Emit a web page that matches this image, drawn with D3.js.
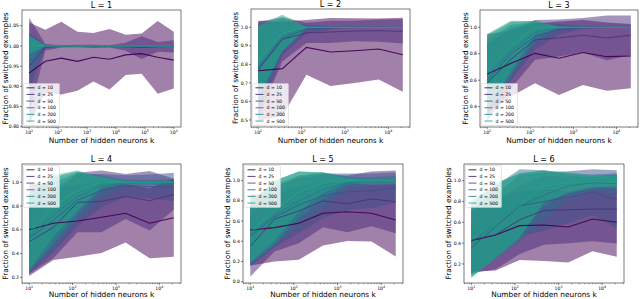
<!DOCTYPE html>
<html><head><meta charset="utf-8">
<script src="https://cdn.jsdelivr.net/npm/d3@7"></script>
<style>body{margin:0;background:#fff} svg{display:block} text{font-family:"DejaVu Sans",sans-serif;fill:#000}</style>
</head><body>
<svg id="c" width="640" height="299"></svg>
<script>
// ---------------- data ----------------
const dims = [10, 25, 50, 100, 200, 500];
const kLong = [10, 36, 129, 464, 1668, 5995, 21544, 77426, 278256, 1000000];
const kShort = [10, 36, 129, 464, 1668, 5995, 21544];

const mean1 = [
 [0.933,0.962,0.970,0.962,0.972,0.967,0.978,0.981,0.972,0.965],
 [0.950,0.997,0.999,1.000,0.999,0.999,0.998,0.996,0.998,0.999],
 [0.962,0.999,1.000,1.000,1.000,1.000,1.000,1.000,1.000,1.000],
 [0.975,1.000,1.000,1.000,1.000,1.000,1.000,1.000,1.000,1.000],
 [0.990,1.000,1.000,1.000,1.000,1.000,1.000,1.000,1.000,1.000],
 [1.003,1.000,1.000,1.000,1.000,1.000,1.000,1.000,1.000,1.000]];
const sd1 = [
 [0.125,0.078,0.090,0.073,0.060,0.075,0.050,0.050,0.090,0.070],
 [0.120,0.008,0.003,0.003,0.004,0.003,0.010,0.028,0.012,0.015],
 [0.070,0.004,0.002,0.001,0.001,0.001,0.001,0.001,0.001,0.001],
 [0.050,0.003,0.001,0.001,0.001,0.001,0.001,0.001,0.001,0.001],
 [0.035,0.002,0.001,0.001,0.001,0.001,0.001,0.001,0.001,0.001],
 [0.022,0.002,0.001,0.001,0.001,0.001,0.001,0.001,0.001,0.001]];

const mean2 = [
 [0.766,0.777,0.892,0.867,0.874,0.883,0.852],
 [0.770,0.935,0.970,0.975,0.980,0.982,0.978],
 [0.780,0.940,0.990,0.998,1.000,1.000,1.000],
 [0.790,0.950,0.998,1.000,1.000,1.000,1.000],
 [0.800,0.960,1.000,1.000,1.000,1.000,1.000],
 [0.820,0.970,1.000,1.000,1.000,1.000,1.000]];
const sd2 = [
 [0.270,0.255,0.148,0.183,0.175,0.165,0.200],
 [0.260,0.120,0.055,0.060,0.055,0.060,0.065],
 [0.240,0.090,0.025,0.008,0.004,0.003,0.003],
 [0.220,0.080,0.010,0.003,0.002,0.002,0.002],
 [0.210,0.090,0.005,0.002,0.002,0.002,0.002],
 [0.190,0.098,0.003,0.002,0.002,0.002,0.002]];

const mean3 = [
 [0.647,0.728,0.803,0.766,0.810,0.778,0.783],
 [0.580,0.760,0.905,0.920,0.940,0.920,0.940],
 [0.600,0.800,0.930,0.985,0.998,1.000,1.000],
 [0.630,0.820,0.960,0.998,1.000,1.000,1.000],
 [0.650,0.840,0.980,1.000,1.000,1.000,1.000],
 [0.670,0.860,0.995,1.000,1.000,1.000,1.000]];
const sd3 = [
 [0.300,0.250,0.226,0.278,0.246,0.258,0.243],
 [0.290,0.220,0.150,0.140,0.130,0.170,0.150],
 [0.270,0.200,0.100,0.040,0.012,0.006,0.006],
 [0.280,0.200,0.080,0.015,0.004,0.003,0.003],
 [0.290,0.200,0.070,0.006,0.003,0.003,0.003],
 [0.280,0.190,0.050,0.004,0.003,0.003,0.003]];

const mean4 = [
 [0.600,0.655,0.674,0.705,0.739,0.655,0.702],
 [0.500,0.620,0.830,0.840,0.880,0.845,0.900],
 [0.530,0.680,0.850,0.930,0.970,0.965,0.960],
 [0.550,0.720,0.880,0.970,0.995,1.000,1.000],
 [0.570,0.760,0.910,0.990,1.000,1.000,1.000],
 [0.580,0.800,0.930,1.000,1.000,1.000,1.000]];
const sd4 = [
 [0.390,0.310,0.300,0.300,0.245,0.295,0.330],
 [0.270,0.260,0.250,0.260,0.190,0.250,0.130],
 [0.300,0.270,0.220,0.140,0.090,0.100,0.120],
 [0.300,0.280,0.200,0.090,0.030,0.020,0.030],
 [0.320,0.280,0.180,0.050,0.010,0.008,0.008],
 [0.320,0.260,0.170,0.040,0.005,0.004,0.004]];

const mean5 = [
 [0.510,0.535,0.578,0.677,0.693,0.677,0.610],
 [0.350,0.620,0.700,0.800,0.770,0.820,0.790],
 [0.450,0.640,0.760,0.850,0.890,0.900,0.930],
 [0.470,0.660,0.800,0.910,0.980,0.995,1.000],
 [0.480,0.680,0.860,0.950,1.000,1.000,1.000],
 [0.490,0.700,0.890,0.980,1.000,1.000,1.000]];
const sd5 = [
 [0.350,0.335,0.360,0.320,0.290,0.280,0.360],
 [0.300,0.320,0.320,0.260,0.280,0.270,0.310],
 [0.300,0.300,0.280,0.220,0.180,0.170,0.150],
 [0.300,0.300,0.250,0.170,0.060,0.040,0.050],
 [0.300,0.320,0.230,0.130,0.040,0.020,0.020],
 [0.300,0.300,0.200,0.100,0.020,0.010,0.010]];

const mean6 = [
 [0.424,0.478,0.568,0.574,0.555,0.632,0.600],
 [0.430,0.480,0.625,0.715,0.720,0.727,0.727],
 [0.354,0.560,0.757,0.800,0.840,0.890,0.820],
 [0.400,0.600,0.760,0.860,0.950,0.980,0.970],
 [0.420,0.620,0.770,0.930,0.980,1.000,1.000],
 [0.440,0.600,0.760,0.946,0.980,0.990,1.000]];
const sd6 = [
 [0.300,0.340,0.330,0.345,0.340,0.310,0.330],
 [0.320,0.330,0.330,0.330,0.320,0.310,0.330],
 [0.250,0.300,0.300,0.280,0.250,0.220,0.280],
 [0.300,0.350,0.350,0.240,0.120,0.080,0.100],
 [0.350,0.360,0.300,0.170,0.080,0.050,0.060],
 [0.370,0.350,0.310,0.150,0.100,0.060,0.050]];

const yTicks1 = [0.80,0.85,0.90,0.95,1.00,1.05];
const yTicks2 = [0.5,0.6,0.7,0.8,0.9,1.0];
const yTicks3 = [0.4,0.6,0.8,1.0];
const yTicks4 = [0.2,0.4,0.6,0.8,1.0];
const yTicks5 = [0.0,0.2,0.4,0.6,0.8,1.0];
const yTicks6 = [0.2,0.4,0.6,0.8,1.0];
const xExp1 = [1,2,3,4,5,6];
const xExpS = [1,2,3,4];

const titles = ["L = 1","L = 2","L = 3","L = 4","L = 5","L = 6"];
const xLabel = "Number of hidden neurons k";
const yLabel = "Fraction of switched examples";

// ---------------- layout / style ----------------
const colors = [0, 0.12, 0.24, 0.36, 0.48, 0.6].map(t => d3.interpolateViridis(t));
const panels = [
 {k:kLong,  mean:mean1, sd:sd1, yt:yTicks1, fmt:".2f", xe:xExp1, xDom:[0.75,6.25],  yDom:[0.7995,1.089], box:[22,10,181,127],  ylx:5,   xly:15.5, leg:"low"},
 {k:kShort, mean:mean2, sd:sd2, yt:yTicks2, fmt:".1f", xe:xExpS, xDom:[0.833,4.5], yDom:[0.462,1.099],  box:[251,9,410,127],  ylx:235, xly:15.5, leg:"low"},
 {k:kShort, mean:mean3, sd:sd3, yt:yTicks3, fmt:".1f", xe:xExpS, xDom:[0.833,4.5], yDom:[0.246,1.131],  box:[480,10,638,127], ylx:465, xly:15.5, leg:"low"},
 {k:kShort, mean:mean4, sd:sd4, yt:yTicks4, fmt:".1f", xe:xExpS, xDom:[0.833,4.5], yDom:[0.152,1.154],  box:[22,164,181,283], ylx:5,   xly:13.5, leg:"up"},
 {k:kShort, mean:mean5, sd:sd5, yt:yTicks5, fmt:".1f", xe:xExpS, xDom:[0.833,4.5], yDom:[-0.013,1.165], box:[243,164,403,283],ylx:227, xly:13.5, leg:"up"},
 {k:kShort, mean:mean6, sd:sd6, yt:yTicks6, fmt:".1f", xe:xExpS, xDom:[0.833,4.5], yDom:[0.017,1.16],   box:[464,164,624,283],ylx:448, xly:13.5, leg:"up"}];

const svg = d3.select("#c");
const defs = svg.append("defs");

panels.forEach((p, pi) => {
  const [x0,y0,x1,y1] = p.box;
  const x = d3.scaleLog().domain(p.xDom.map(e => Math.pow(10,e))).range([x0,x1]);
  const y = d3.scaleLinear().domain(p.yDom).range([y1,y0]);
  const cid = "clip"+pi;
  defs.append("clipPath").attr("id",cid).append("rect")
     .attr("x",x0).attr("y",y0).attr("width",x1-x0).attr("height",y1-y0);
  const g = svg.append("g");
  const plot = g.append("g").attr("clip-path","url(#"+cid+")");

  dims.forEach((d,i) => {
    const pts = p.k.map((k,j) => ({k, m:p.mean[i][j], s:p.sd[i][j]}));
    plot.append("path").datum(pts)
      .attr("d", d3.area().x(q => x(q.k)).y0(q => y(q.m - q.s)).y1(q => y(q.m + q.s)))
      .attr("fill", colors[i]).attr("fill-opacity", 0.5);
  });
  dims.forEach((d,i) => {
    const pts = p.k.map((k,j) => ({k, m:p.mean[i][j]}));
    plot.append("path").datum(pts)
      .attr("d", d3.line().x(q => x(q.k)).y(q => y(q.m)))
      .attr("fill","none").attr("stroke", colors[i])
      .attr("stroke-width", i === 0 ? 1.1 : 0.8).attr("stroke-opacity", 0.95);
  });

  // x axis ticks
  const xa = g.append("g").attr("transform","translate(0,"+y1+")");
  const dmin = Math.floor(p.xDom[0]), dmax = Math.ceil(p.xDom[1]);
  for (let e = dmin; e <= dmax; e++) {
    for (let m = 2; m <= 9; m++) {
      const v = m*Math.pow(10,e);
      const xv = x(v);
      if (xv < x0 || xv > x1) continue;
      xa.append("line").attr("x1",xv).attr("x2",xv).attr("y1",0).attr("y2",1.2)
        .attr("stroke","#000").attr("stroke-width",0.4);
    }
  }
  p.xe.forEach(e => {
    const xv = x(Math.pow(10,e));
    xa.append("line").attr("x1",xv).attr("x2",xv).attr("y1",0).attr("y2",2)
      .attr("stroke","#000").attr("stroke-width",0.5);
    const t = xa.append("text").attr("x",xv).attr("y",7).attr("text-anchor","middle")
      .style("font-size","4.6px");
    t.append("tspan").text("10");
    t.append("tspan").attr("dy",-1.8).style("font-size","3.3px").text(String(e));
  });
  // y axis ticks
  const fmt = d3.format(p.fmt);
  p.yt.forEach(v => {
    const yv = y(v);
    g.append("line").attr("x1",x0-2).attr("x2",x0).attr("y1",yv).attr("y2",yv)
      .attr("stroke","#000").attr("stroke-width",0.5);
    g.append("text").attr("x",x0-3).attr("y",yv).attr("dy","0.35em")
      .attr("text-anchor","end").style("font-size","4.6px").text(fmt(v));
  });
  // frame
  g.append("rect").attr("x",x0).attr("y",y0).attr("width",x1-x0).attr("height",y1-y0)
    .attr("fill","none").attr("stroke","#222").attr("stroke-width",0.6);

  // titles and labels
  g.append("text").attr("x",(x0+x1)/2).attr("y",y0-2.2).attr("text-anchor","middle")
    .style("font-size","8px").text(titles[pi]);
  g.append("text").attr("x",(x0+x1)/2).attr("y",y1+p.xly).attr("text-anchor","middle")
    .style("font-size","7.4px").text(xLabel);
  g.append("text").attr("transform","translate("+(p.ylx+2.6)+","+((y0+y1)/2)+") rotate(-90)")
    .attr("text-anchor","middle").style("font-size","7.4px").text(yLabel);

  // legend
  const lw = 36, lh = 42;
  const lx = x0 + 1.5;
  const ly = p.leg === "low" ? y1 - 1.5 - lh : y0 + 1.5;
  const lg = g.append("g");
  lg.append("rect").attr("x",lx).attr("y",ly).attr("width",lw).attr("height",lh).attr("rx",1)
    .attr("fill","#fff").attr("fill-opacity",0.8).attr("stroke","#ccc").attr("stroke-width",0.5);
  dims.forEach((d,i) => {
    const cy = ly + 4.3 + i*6.65;
    lg.append("line").attr("x1",lx+3).attr("x2",lx+11).attr("y1",cy).attr("y2",cy)
      .attr("stroke",colors[i]).attr("stroke-width",1.1).attr("stroke-opacity",0.8);
    lg.append("text").attr("x",lx+14).attr("y",cy).attr("dy","0.35em")
      .style("font-size","4.6px").text("d = " + d);
  });
});
</script>
</body></html>
